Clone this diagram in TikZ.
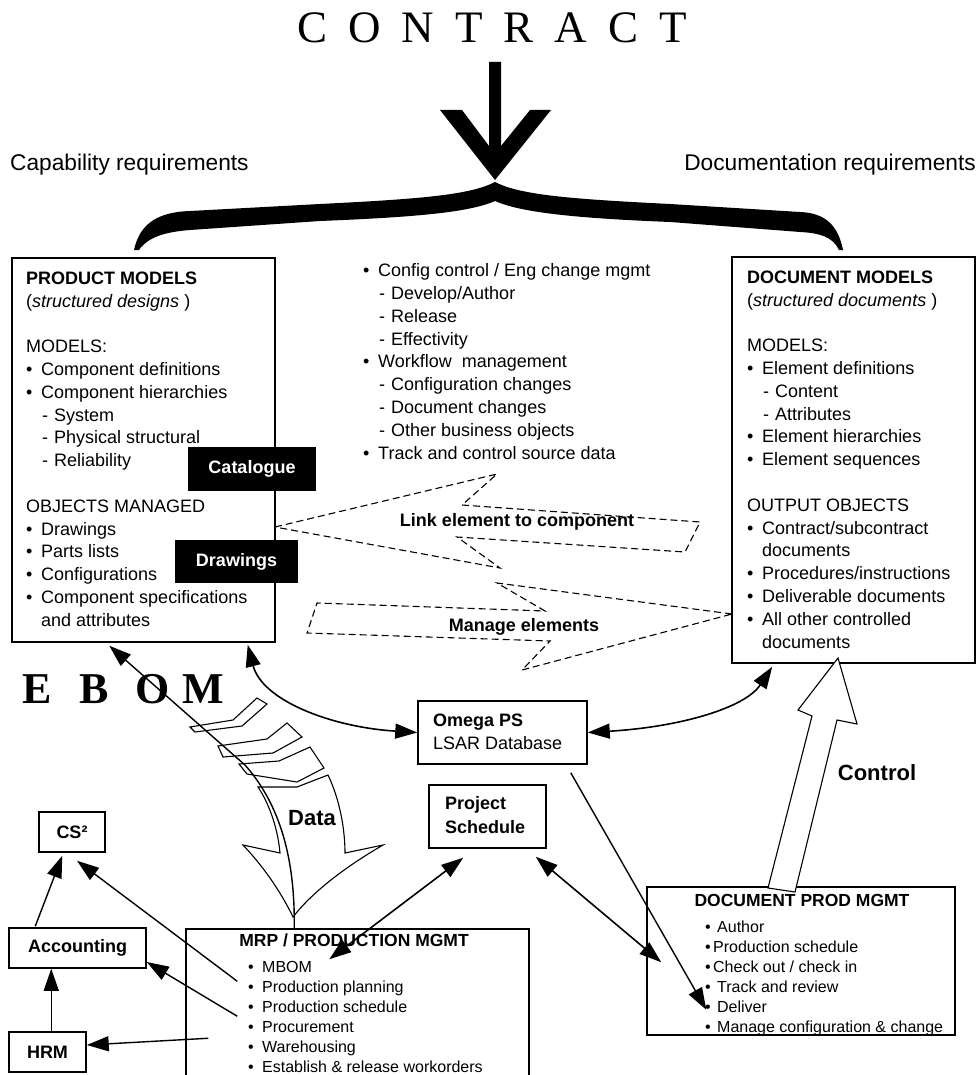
\documentclass[tikz,border=0pt]{standalone}
\usepackage{fontspec}
\setmainfont{Liberation Sans}
\newfontfamily\seriffam{Liberation Serif}
\usetikzlibrary{arrows.meta,calc}
\newcommand\mybul{\makebox[15pt][l]{\textbullet}}
\newcommand\mydash{\hspace*{16pt}\makebox[12pt][l]{-}}
\newcommand\myind{\hspace*{15pt}}
\newcommand\mrpbul{\makebox[14pt][l]{\textbullet}}
\tikzset{
 box/.style={draw, line width=1.5pt, inner sep=0pt},
 blk/.style={fill=black, text=white, inner sep=0pt, font=\fontsize{18}{22}\selectfont\bfseries},
 txt/.style={inner sep=0pt, align=left, anchor=north west},
 big/.style={font=\fontsize{18}{22.8}\selectfont},
 small/.style={font=\fontsize{16}{20}\selectfont},
 btitle/.style={inner sep=0pt, font=\fontsize{17.5}{20}\selectfont\bfseries},
 tipA/.tip={Triangle[length=22pt,width=15pt]},
 conn/.style={line width=1.4pt, -tipA},
 dconn/.style={line width=1.6pt, tipA-tipA},
 zig/.style={draw, line width=1.1pt, dash pattern=on 7pt off 4pt, line join=miter},
 hollow/.style={draw, fill=white, line width=1.1pt, line join=miter},
}
\begin{document}
\begin{tikzpicture}[x=1pt,y=-1pt]
\useasboundingbox (0,0) rectangle (977,1075);

% title
\node[inner sep=0pt, font=\fontsize{45}{45}\seriffam] (contract) at (492,28)
  {C\hspace{21pt}O\hspace{21pt}N\hspace{21pt}T\hspace{21pt}R\hspace{21pt}A\hspace{21pt}C\hspace{21pt}T};

% big arrow
\fill (440,110) -- (462,110) -- (489,146) -- (489,62) -- (501,62) -- (501,146)
  -- (530,110) -- (551,110) -- (495,180) -- cycle;

% brace
\fill (134,250) .. controls (140,222) and (160,212) .. (190,211) -- (320,204)
  .. controls (420,199) and (470,195) .. (495,182)
  .. controls (520,195) and (570,199) .. (670,204) -- (800,212)
  .. controls (825,213) and (838,225) .. (843,250) -- (839,250)
  .. controls (833,237) and (820,233) .. (800,232) -- (670,222)
  .. controls (570,218) and (520,212) .. (495,201)
  .. controls (470,212) and (420,217) .. (320,221) -- (190,230)
  .. controls (165,232) and (148,237) .. (139,250) -- cycle;

\node[inner sep=0pt, anchor=base west, font=\fontsize{22.7}{24}\selectfont] (capreq) at (10,171) {Capability requirements};
\node[inner sep=0pt, anchor=base east, font=\fontsize{22.7}{24}\selectfont] (docreq) at (976,171) {Documentation requirements};

% product models
\node[box, minimum width=263pt, minimum height=384pt] (pm) at (143.5,450) {};
\node[txt, big] (pmt) at (26,271.5) {\textbf{PRODUCT MODELS}\\(\textit{structured designs} )\\[22.8pt]MODELS:\\
\mybul Component definitions\\\mybul Component hierarchies\\\mydash System\\\mydash Physical structural\\\mydash Reliability\\[22.8pt]
OBJECTS MANAGED\\\mybul Drawings\\\mybul Parts lists\\\mybul Configurations\\\mybul Component specifications\\\myind and attributes};
\node[blk, minimum width=128pt, minimum height=44pt] (cat) at (252,469) {Catalogue};
\node[blk, minimum width=123pt, minimum height=43pt] (drw) at (236.5,561.5) {Drawings};

% middle text
\node[txt, big] (mid) at (363,263.5) {\mybul Config control / Eng change mgmt\\\mydash Develop/Author\\\mydash Release\\\mydash Effectivity\\
\mybul Workflow\ \ management\\\mydash Configuration changes\\\mydash Document changes\\\mydash Other business objects\\\mybul Track and control source data};

% document models
\node[box, minimum width=243pt, minimum height=406pt] (dm) at (853.5,460) {};
\node[txt, big] (dmt) at (747,270.5) {\textbf{DOCUMENT MODELS}\\(\textit{structured documents} )\\[22.8pt]MODELS:\\
\mybul Element definitions\\\mydash Content\\\mydash Attributes\\\mybul Element hierarchies\\\mybul Element sequences\\[22.8pt]
OUTPUT OBJECTS\\\mybul Contract/subcontract\\\myind documents\\\mybul Procedures/instructions\\\mybul Deliverable documents\\\mybul All other controlled\\\myind documents};

% dashed zigzag arrows
\draw[zig] (275,527) -- (497,474) -- (462,505) -- (700,522) -- (685,552) -- (457,537) -- (500,568) -- cycle;
\node[inner sep=0pt, font=\fontsize{18}{20}\selectfont\bfseries] (link) at (517,522) {Link element to component};
\draw[zig] (732,614) -- (497,583) -- (545,611) -- (317,603) -- (307,633) -- (550,641) -- (522,670) -- cycle;
\node[inner sep=0pt, font=\fontsize{18}{20}\selectfont\bfseries] (mng) at (524,627) {Manage elements};

% EBOM
\node[inner sep=0pt, anchor=base west, font=\fontsize{44}{44}\seriffam\bfseries] (ebom) at (22,703) {E\hspace{28pt}B\hspace{27pt}O\hspace{12pt}M};

% Omega
\node[box, minimum width=169pt, minimum height=63pt] (om) at (502.5,732.5) {};
\node[txt, font=\fontsize{18}{23}\selectfont] (omt) at (433,713.5) {\textbf{Omega PS}\\LSAR Database};

% Project schedule
\node[box, minimum width=117pt, minimum height=63pt] (ps) at (487.5,816.5) {};
\node[txt, font=\fontsize{18}{24}\selectfont\bfseries] (pst) at (445,796.5) {Project\\Schedule};

% small boxes
\node[box, minimum width=66pt, minimum height=40pt, font=\fontsize{18}{20}\selectfont\bfseries] (cs) at (72,832) {CS²};
\node[box, minimum width=137pt, minimum height=40pt, font=\fontsize{18}{20}\selectfont\bfseries] (acc) at (77.5,948) {Accounting};
\node[box, minimum width=77pt, minimum height=40pt, font=\fontsize{18}{20}\selectfont\bfseries] (hrm) at (47.5,1052) {HRM};

% MRP
\node[box, minimum width=343pt, minimum height=170pt] (mrp) at (357.5,1014) {};
\node[btitle] (mrpt) at (354,940) {MRP / PRODUCTION MGMT};
\node[txt, small] (mrpi) at (248,961.3) {\mrpbul MBOM\\\mrpbul Production planning\\\mrpbul Production schedule\\\mrpbul Procurement\\\mrpbul Warehousing\\\mrpbul Establish \& release workorders};

% Document prod mgmt
\node[box, minimum width=308pt, minimum height=148pt] (dp) at (801,961) {};
\node[btitle] (dpt) at (802,900) {DOCUMENT PROD MGMT};
\node[txt, small] (dpi) at (705,920.3) {\makebox[12pt][l]{\textbullet}Author\\\makebox[8pt][l]{\textbullet}Production schedule\\\makebox[8pt][l]{\textbullet}Check out / check in\\\makebox[12pt][l]{\textbullet}Track and review\\\makebox[12pt][l]{\textbullet}Deliver\\\makebox[12pt][l]{\textbullet}Manage configuration \& change};

% Control arrow
\draw[hollow] (838,658) -- (857,724) -- (837,720) -- (795,892) -- (768,888) -- (812,716) -- (798,710) -- cycle;
\node[inner sep=0pt, font=\fontsize{22}{24}\selectfont\bfseries] (ctl) at (877,773) {Control};

% Data arrow
\draw[hollow] (190,727) -- (233,720) -- (257,698) -- (267,704) -- (242,726) -- (195,732) -- cycle;
\draw[hollow] (218,746) -- (267,739) -- (287,723) -- (302,737) -- (273,753) -- (223,757) -- cycle;
\draw[hollow] (239,764) -- (279,761) -- (310,747) -- (324,768) -- (297,782) -- (247,774) -- cycle;
\draw[hollow] (258,787) -- (297,787) -- (328,775) .. controls (340,800) and (345,830) .. (345,853)
  -- (383,845) .. controls (340,870) and (310,895) .. (293,917)
  .. controls (280,890) and (262,865) .. (243,845) -- (280,853)
  .. controls (278,830) and (270,805) .. (258,787) -- cycle;
\node[inner sep=0pt, font=\fontsize{22}{24}\selectfont\bfseries] (data) at (312,818) {Data};

% connectors
\draw[conn] ($(mrp.north west)+(109,0)$) .. controls (295,870) and (285,810) .. (245,765) -- ($(pm.south west)+(98,3)$);
\draw[dconn] ($(pm.south east)+(-28,2)$) .. controls (262,700) and (330,727) .. (om.west);
\draw[dconn] (om.east) .. controls (680,727) and (745,708) .. ($(dm.south west)+(41,3)$);
\draw[conn] ($(om.south east)+(-17,8)$) -- ($(dp.south west)+(60,-26)$);
\draw[dconn] ($(ps.south east)+(-11,8)$) -- ($(dp.north west)+(15,76)$);
\draw[dconn] ($(ps.south west)+(35,9)$) -- ($(mrp.north west)+(144,31)$);
\draw[conn] ($(mrp.north west)+(52,53)$) -- ($(cs.south)+(5,8)$);
\draw[conn] ($(mrp.north west)+(52,88)$) -- ($(acc.east)+(0,14)$);
\draw[conn] ($(mrp.north west)+(23,110)$) -- ($(hrm.east)+(0,-7)$);
\draw[conn] ($(acc.north west)+(27,-1)$) -- ($(cs.south west)+(24,3)$);
\draw[conn] ($(hrm.north west)+(43,0)$) -- ($(acc.south west)+(43,0)$);
\end{tikzpicture}
\end{document}
